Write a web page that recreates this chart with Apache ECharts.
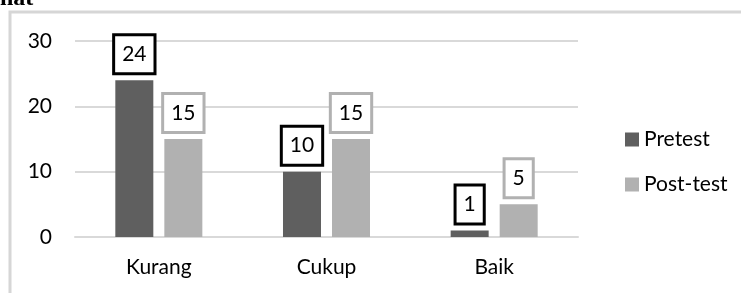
<!DOCTYPE html>
<html>
<head>
<meta charset="utf-8">
<script src="https://cdn.jsdelivr.net/npm/echarts@6/dist/echarts.min.js"></script>
<style>
  html, body { margin: 0; padding: 0; background: #fff; }
  #chart { width: 741px; height: 293px; }
</style>
</head>
<body>
<div id="chart"></div>
<script>
// data
const categories = ['Kurang', 'Cukup', 'Baik'];
const pretest = [24, 10, 1];
const posttest = [15, 15, 5];
const seriesNames = ['Pretest', 'Post-test'];
const yTicks = { min: 0, max: 30, interval: 10 };

const font = 'Lato, "Open Sans", sans-serif';

const chart = echarts.init(document.getElementById('chart'), null, { renderer: 'canvas' });

function labelStyle(border) {
  return {
    show: true,
    position: 'top',
    distance: 8,
    color: '#000',
    fontFamily: font,
    fontSize: 21,
    lineHeight: 20,
    backgroundColor: '#fff',
    borderColor: border,
    borderWidth: 3,
    padding: [8, 7]
  };
}

const option = {
  backgroundColor: '#fff',
  animation: false,
  grid: { left: 75, right: 163, top: 41, bottom: 56 },
  legend: {
    orient: 'vertical',
    left: 620,
    top: 124,
    itemWidth: 14,
    itemHeight: 14,
    itemGap: 24,
    icon: 'rect',
    textStyle: { color: '#000', fontFamily: font, fontSize: 21, lineHeight: 20 },
    data: seriesNames
  },
  xAxis: {
    type: 'category',
    data: categories,
    axisLine: { lineStyle: { color: '#d9d9d9', width: 2 } },
    axisTick: { show: false },
    axisLabel: { color: '#000', fontFamily: font, fontSize: 21, margin: 20 }
  },
  yAxis: {
    type: 'value',
    min: yTicks.min,
    max: yTicks.max,
    interval: yTicks.interval,
    axisLine: { show: false },
    axisTick: { show: false },
    axisLabel: { color: '#000', fontFamily: font, fontSize: 21, margin: 23 },
    splitLine: { lineStyle: { color: '#d9d9d9', width: 2 } }
  },
  graphic: [
    {
      type: 'rect',
      shape: { x: 10, y: 12, width: 760, height: 320 },
      style: { fill: 'none', stroke: '#d6d6d6', lineWidth: 3 },
      z: -10
    },
    {
      type: 'text',
      left: 0,
      top: -13,
      style: { text: 'nat', fill: '#000', font: 'bold 24px "Liberation Serif", serif' }
    }
  ],
  series: [
    {
      name: seriesNames[0],
      type: 'bar',
      data: pretest,
      barWidth: 38,
      barGap: '29%',
      itemStyle: { color: '#5f5f5f' },
      label: labelStyle('#000')
    },
    {
      name: seriesNames[1],
      type: 'bar',
      data: posttest,
      barWidth: 38,
      itemStyle: { color: '#b1b1b1' },
      label: labelStyle('#b1b1b1')
    }
  ]
};

chart.setOption(option);
</script>
</body>
</html>
